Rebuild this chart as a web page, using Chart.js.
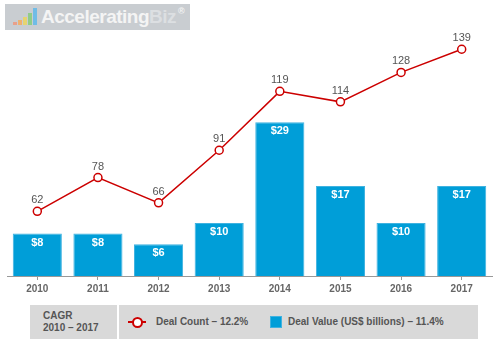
<!DOCTYPE html>
<html><head><meta charset="utf-8">
<script src="https://cdn.jsdelivr.net/npm/chart.js@4/dist/chart.umd.min.js"></script>
<style>
html,body{margin:0;padding:0;background:#fff;}
body{width:500px;height:357px;position:relative;overflow:hidden;font-family:"Liberation Sans",Arial,sans-serif;}
#logo{position:absolute;left:5px;top:4px;width:185px;height:26px;background:#c9cdd1;}
#logo .t{position:absolute;left:36px;top:2px;font-weight:bold;font-size:19px;color:#f4f4f4;letter-spacing:-0.5px;white-space:nowrap;}
#logo .t span{color:#dcdfe2;}
#logo .t sup{font-size:9px;color:#f4f4f4;vertical-align:top;position:relative;top:0px;margin-left:2px;}
.ib{position:absolute;bottom:5px;width:4px;}
#wrap{position:absolute;left:0;top:0;width:500px;height:300px;}
#leg{position:absolute;top:305px;left:30px;height:34px;}
.cell{position:absolute;top:0;height:34px;background:#d9d9d9;}
.lt{position:absolute;font-weight:bold;font-size:10px;color:#555;white-space:nowrap;}
</style></head><body>
<div id="logo">
  <div class="ib" style="left:8px;height:3px;background:#e8a08a"></div>
  <div class="ib" style="left:13px;height:5px;background:#eeb070"></div>
  <div class="ib" style="left:18px;height:8px;background:#e6d470"></div>
  <div class="ib" style="left:23px;height:12px;background:#90cc88"></div>
  <div class="ib" style="left:28px;height:17px;background:#70bce6"></div>
  <div class="t">Accelerating<span>Biz</span><sup>®</sup></div>
</div>
<div id="wrap"><canvas id="c"></canvas></div>
<div id="leg">
  <div class="cell" style="left:0;width:87px;"></div>
  <div class="cell" style="left:89px;width:359px;"></div>
  <div class="lt" style="left:13px;top:5px;">CAGR</div>
  <div class="lt" style="left:13px;top:17px;">2010 – 2017</div>
  <div style="position:absolute;left:98px;top:16px;width:18px;height:2px;background:#cc0000;"></div>
  <div style="position:absolute;left:102px;top:12px;width:7px;height:7px;border:2px solid #cc0000;border-radius:50%;background:#fff;"></div>
  <div class="lt" style="left:126px;top:11px;">Deal Count – 12.2%</div>
  <div style="position:absolute;left:240px;top:11px;width:10px;height:10px;background:#009ed8;border:1px solid #3fb2e0;"></div>
  <div class="lt" style="left:258px;top:11px;">Deal Value (US$ billions) – 11.4%</div>
</div>
<script>
const years = ["2010","2011","2012","2013","2014","2015","2016","2017"];
const dealCount = [62, 78, 66, 91, 119, 114, 128, 139];
const dealValue = [8, 8, 6, 10, 29, 17, 10, 17];

const labelPlugin = {
  id: 'vals',
  afterDatasetsDraw(chart) {
    const ctx = chart.ctx;
    ctx.save();
    ctx.textAlign = 'center';
    ctx.textBaseline = 'middle';
    chart.getDatasetMeta(1).data.forEach((el, i) => {
      ctx.font = 'bold 11px "Liberation Sans", Arial, sans-serif';
      ctx.fillStyle = '#ffffff';
      ctx.fillText('$' + dealValue[i], el.x, el.y + 9);
    });
    chart.getDatasetMeta(0).data.forEach((el, i) => {
      ctx.font = '11px "Liberation Sans", Arial, sans-serif';
      ctx.fillStyle = '#555555';
      ctx.fillText(String(dealCount[i]), el.x, el.y - 11);
    });
    ctx.restore();
  }
};

new Chart(document.getElementById('c'), {
  data: {
    labels: years,
    datasets: [
      {type:'line', label:'Deal Count', data: dealCount, yAxisID:'y1',
       borderColor:'#cc0000', borderWidth:1.5, pointRadius:4, pointBorderWidth:1.5,
       pointBackgroundColor:'#ffffff', pointBorderColor:'#cc0000', tension:0, order:0},
      {type:'bar', label:'Deal Value', data: dealValue, yAxisID:'y',
       backgroundColor:'#009ed8', borderColor:'#3fb2e0', borderWidth:1,
       categoryPercentage:1.0, barPercentage:0.81, order:1}
    ]
  },
  options: {
    responsive:true, maintainAspectRatio:false, animation:false,
    layout:{padding:{left:7, right:8, top:20, bottom:2}},
    plugins:{legend:{display:false}, tooltip:{enabled:false}},
    scales:{
      x:{offset:true,
         grid:{display:true, drawOnChartArea:false, drawTicks:true, tickLength:4, offset:false, color:'#999'},
         border:{display:true, color:'#999', width:1},
         ticks:{color:'#666', padding:3, font:{family:'"Liberation Sans", Arial, sans-serif', size:10, weight:'bold'}}},
      y:{display:false, min:0, max:48.3},
      y1:{display:false, min:31.25, max:152.9}
    }
  },
  plugins:[labelPlugin]
});
</script>
</body></html>
